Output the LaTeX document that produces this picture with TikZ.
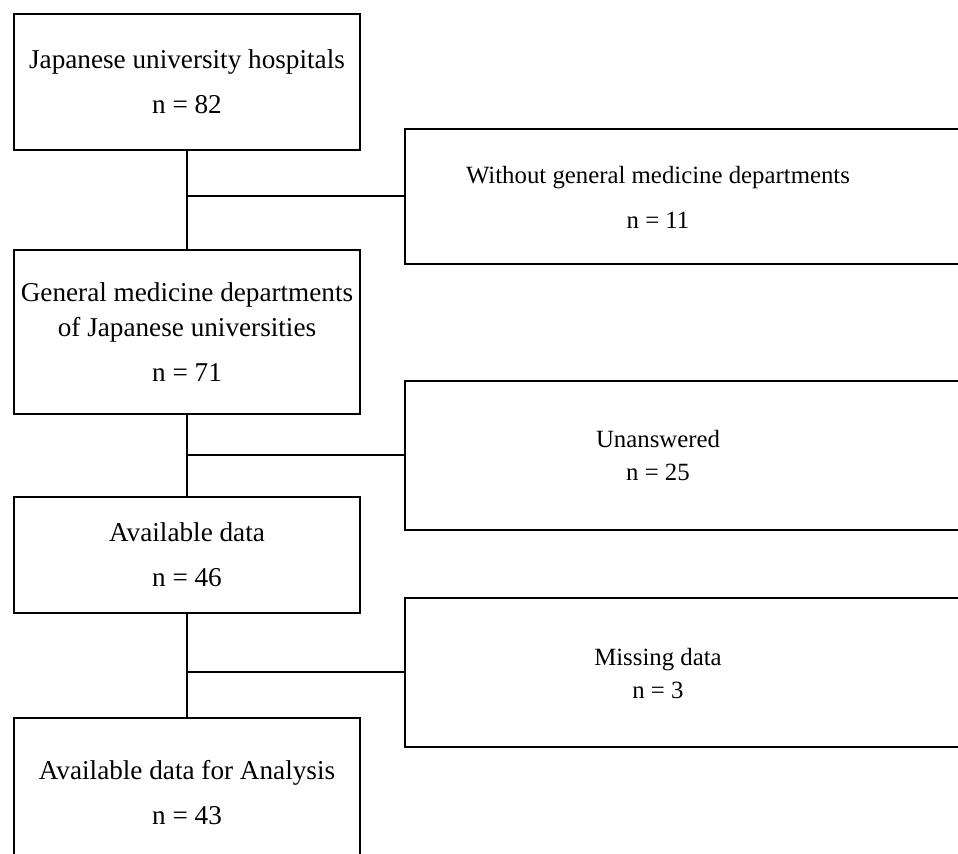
\documentclass[tikz,border=0pt]{standalone}
\usepackage{fontspec}
\setmainfont{Liberation Serif}
\usetikzlibrary{positioning}

\begin{document}
\begin{tikzpicture}[x=0.5pt,y=-0.5pt]
\tikzstyle{every node}+=[inner sep=0pt]
\tikzstyle{mainbox}=[draw, line width=1pt, minimum width=173pt, align=center, font=\fontsize{13.6}{17.5}\selectfont]
\tikzstyle{sidebox}=[draw, line width=1pt, minimum width=285pt]
\tikzstyle{sidetext}=[align=center, font=\fontsize{12.4}{16.5}\selectfont]
\tikzstyle{link}=[line width=1pt]
\useasboundingbox (0,0) rectangle (958,853);
\clip (0,0) rectangle (958,853);
% left column
\node [mainbox, minimum height=68pt] (hosp) at (187,82) {Japanese university hospitals\\[5pt] n = 82};
\node [mainbox, minimum height=82pt] (depts) at (187,332) {General medicine departments\\ of Japanese universities\\[5pt] n = 71};
\node [mainbox, minimum height=58pt] (avail) at (187,555) {Available data\\[5pt] n = 46};
\node [mainbox, minimum height=75pt] (anal) at (187,793) {Available data for Analysis\\[5pt] n = 43};
% right column (boxes run past the edge)
\node [sidebox, minimum height=67.5pt] (excl1) at (690,196) {};
\node [sidetext] (excl1txt) at (658,197) {Without general medicine departments\\[6pt] n = 11};
\node [sidebox, minimum height=74.5pt] (excl2) at (690,455) {};
\node [sidetext] (excl2txt) at (658,456) {Unanswered\\ n = 25};
\node [sidebox, minimum height=74.5pt] (excl3) at (690,672) {};
\node [sidetext] (excl3txt) at (658,674) {Missing data\\ n = 3};
% connectors
\draw [link] (hosp.south) -- (depts.north);
\draw [link] (depts.south) -- (avail.north);
\draw [link] (avail.south) -- (anal.north);
\draw [link] (excl1.west) -- (excl1.west -| hosp.south);
\draw [link] (excl2.west) -- (excl2.west -| depts.south);
\draw [link] (excl3.west) -- (excl3.west -| avail.south);
\end{tikzpicture}
\end{document}
